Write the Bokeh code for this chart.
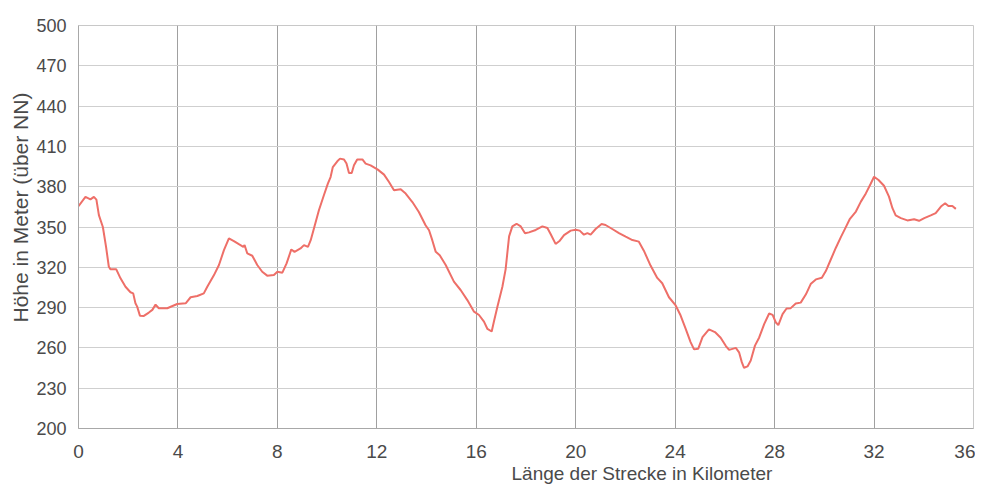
from bokeh.plotting import figure
from bokeh.models import Range1d, FixedTicker, Title
from bokeh.embed import file_html
from bokeh.resources import INLINE

km = [0.0, 0.28, 0.48, 0.62, 0.72, 0.82, 0.98, 1.11, 1.22, 1.29, 1.52, 1.69, 1.89, 2.09, 2.2, 2.29, 2.36, 2.47, 2.63, 2.83,
      2.97, 3.1, 3.23, 3.57, 3.97, 4.31, 4.51, 4.78, 5.04, 5.18, 5.45, 5.65, 5.85, 6.05, 6.25, 6.45, 6.63, 6.68, 6.79, 6.99,
      7.19, 7.39, 7.59, 7.86, 8.0, 8.2, 8.37, 8.56, 8.69, 8.93, 9.07, 9.23, 9.34, 9.47, 9.67, 9.87, 10.03, 10.14, 10.23, 10.41,
      10.52, 10.68, 10.78, 10.88, 10.99, 11.08, 11.21, 11.42, 11.55, 11.75, 12.04, 12.29, 12.49, 12.69, 12.96, 13.16, 13.43, 13.69, 13.96, 14.1,
      14.23, 14.37, 14.53, 14.77, 15.1, 15.37, 15.64, 15.91, 16.11, 16.31, 16.45, 16.62, 16.71, 16.85, 17.05, 17.18, 17.32, 17.45, 17.62, 17.79,
      17.96, 18.12, 18.39, 18.66, 18.86, 18.99, 19.19, 19.36, 19.53, 19.8, 20.0, 20.16, 20.33, 20.47, 20.6, 20.8, 21.04, 21.2, 21.47, 21.74,
      22.01, 22.28, 22.54, 22.74, 23.01, 23.28, 23.48, 23.75, 24.02, 24.22, 24.42, 24.62, 24.76, 24.93, 25.1, 25.36, 25.6, 25.83, 26.04, 26.17,
      26.44, 26.57, 26.68, 26.77, 26.91, 27.04, 27.21, 27.38, 27.58, 27.78, 27.92, 28.05, 28.15, 28.32, 28.48, 28.65, 28.85, 29.05, 29.26, 29.46,
      29.66, 29.9, 30.06, 30.26, 30.46, 30.66, 30.86, 31.03, 31.27, 31.47, 31.67, 31.87, 32.0, 32.18, 32.4, 32.6, 32.74, 32.87, 33.08, 33.34,
      33.61, 33.81, 34.02, 34.28, 34.48, 34.69, 34.86, 34.99, 35.15, 35.29]

hoehe = [365.5, 372.4, 370.6, 372.4, 370.4, 358.8, 350.0, 335.0, 320.4, 318.5, 318.5, 311.8, 305.5, 301.4, 300.6, 293.2, 290.7, 284.0, 283.8, 286.3,
         288.3, 292.2, 289.5, 289.5, 292.7, 293.2, 297.7, 298.6, 300.6, 305.5, 314.2, 321.7, 332.8, 341.5, 339.5, 337.2, 335.2, 336.5, 330.3, 328.6,
         321.7, 316.7, 313.8, 314.2, 316.7, 316.0, 322.9, 333.3, 331.5, 334.0, 336.5, 335.2, 340.2, 348.9, 362.5, 373.6, 382.3, 387.2, 394.6, 398.9,
         400.9, 400.3, 397.2, 390.2, 390.2, 395.9, 400.3, 400.3, 397.2, 395.9, 392.7, 389.0, 383.5, 377.3, 378.1, 374.9, 368.6, 361.2, 351.3, 347.6,
         340.2, 331.5, 329.0, 321.7, 309.3, 303.1, 295.6, 287.0, 284.5, 279.6, 274.1, 272.2, 279.6, 290.7, 305.5, 318.5, 343.0, 350.5, 352.4, 350.4,
         345.3, 346.0, 347.8, 350.5, 349.3, 344.8, 337.4, 339.8, 344.0, 347.3, 348.0, 347.3, 344.3, 345.5, 344.3, 348.5, 352.2, 351.5, 348.5, 345.5,
         342.8, 340.3, 339.1, 332.4, 321.3, 312.1, 308.1, 297.7, 291.6, 284.1, 274.3, 264.3, 258.9, 259.4, 268.0, 273.8, 271.8, 267.6, 261.4, 258.5,
         260.0, 256.7, 249.4, 245.2, 246.2, 250.6, 261.7, 267.8, 277.7, 285.6, 284.6, 278.9, 277.0, 285.1, 289.3, 289.6, 293.0, 293.7, 299.9, 307.8,
         311.0, 312.2, 317.2, 325.8, 334.4, 342.3, 349.7, 356.1, 361.5, 368.9, 375.0, 382.4, 387.4, 385.0, 380.7, 372.6, 364.0, 358.6, 356.6, 354.9,
         355.8, 354.6, 356.6, 358.6, 360.3, 365.2, 367.7, 365.7, 365.7, 363.5]

x_ticks = [0, 4, 8, 12, 16, 20, 24, 28, 32, 36]
y_ticks = [200, 230, 260, 290, 320, 350, 380, 410, 440, 470, 500]
x_title = "Länge der Strecke in Kilometer"
y_title = "Höhe in Meter (über NN)"

FONT = "Liberation Sans"
TXT = "#4a4a4a"

p = figure(width=975, height=484, output_backend="svg", toolbar_location=None,
           x_range=Range1d(0, 36), y_range=Range1d(200, 500),
           min_border_left=78, min_border_right=2, min_border_top=25, min_border_bottom=56)

p.background_fill_color = "white"
p.border_fill_color = "white"
p.outline_line_color = "#c8c8c8"
p.outline_line_width = 1

p.line(km, hoehe, line_color="#ee6f68", line_width=2)

p.xaxis.ticker = FixedTicker(ticks=x_ticks)
p.yaxis.ticker = FixedTicker(ticks=y_ticks)

for ax in (p.xaxis[0], p.yaxis[0]):
    ax.major_tick_line_color = None
    ax.minor_tick_line_color = None
    ax.axis_line_color = "#a8a8a8"
    ax.major_label_text_font = FONT
    ax.major_label_text_color = TXT
    ax.axis_label_standoff = 0

p.xaxis.major_label_text_font_size = "19px"
p.xaxis.major_label_standoff = 10
p.yaxis.major_label_text_font_size = "18px"
p.yaxis.major_label_standoff = 6

p.xgrid.grid_line_color = "#a0a0a0"
p.xgrid.grid_line_width = 1
p.ygrid.grid_line_color = "#cfcfcf"
p.ygrid.grid_line_width = 1

p.add_layout(Title(text=x_title, text_font=FONT, text_font_size="19px", text_font_style="normal",
                   text_color=TXT, align="left", offset=433, standoff=0), "below")
p.add_layout(Title(text=y_title, text_font=FONT, text_font_size="21px", text_font_style="normal",
                   text_color=TXT, align="left", offset=106, standoff=4), "left")

open("out.html", "w").write(file_html(p, INLINE))
